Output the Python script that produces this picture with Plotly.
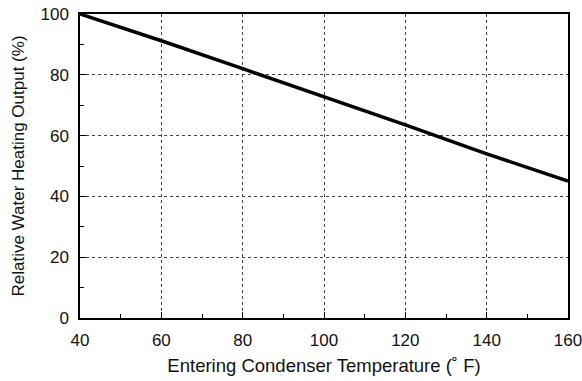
import plotly.graph_objects as go

temps = [40, 60, 80, 100, 120, 140, 160]
output_pct = [100, 91.2, 82.0, 72.8, 63.5, 54.0, 45.0]

x_ticks = [40, 60, 80, 100, 120, 140, 160]
y_ticks = [0, 20, 40, 60, 80, 100]

fig = go.Figure()
fig.add_trace(go.Scatter(x=temps, y=output_pct, mode="lines",
                         line=dict(color="black", width=3.5), showlegend=False))

font = dict(family="Liberation Sans, Arial, sans-serif", color="#111", size=17)
fig.update_layout(
    width=582, height=381,
    margin=dict(l=80, r=14, t=14, b=63, autoexpand=False),
    paper_bgcolor="white", plot_bgcolor="white",
    font=font,
)
fig.update_xaxes(
    range=[40, 160], tickvals=x_ticks, ticks="inside", ticklen=6, tickcolor="black",
    showline=True, linecolor="black", linewidth=1.5, mirror=True,
    showgrid=True, gridcolor="#444", griddash="dot", gridwidth=1,
    zeroline=False, automargin=False, ticklabeloverflow="allow",
    title=dict(text="Entering Condenser Temperature (˚ F)", font=dict(size=18.5), standoff=10),
    ticklabelstandoff=6,
    minor=dict(tickvals=[50, 70, 90, 110, 130, 150], ticks="inside", ticklen=4, tickcolor="black", showgrid=False),
)
fig.update_yaxes(
    range=[0, 100], tickvals=y_ticks, ticks="inside", ticklen=6, tickcolor="black",
    showline=True, linecolor="black", linewidth=1.5, mirror=True,
    showgrid=True, gridcolor="#444", griddash="dot", gridwidth=1,
    zeroline=False, automargin=False, ticklabeloverflow="allow",
    title=dict(text="Relative Water Heating Output (%)", font=dict(size=17), standoff=12),
    ticklabelstandoff=6,
    minor=dict(tickvals=[10, 30, 50, 70, 90], ticks="inside", ticklen=4, tickcolor="black", showgrid=False),
)

fig.write_html("out.html")
